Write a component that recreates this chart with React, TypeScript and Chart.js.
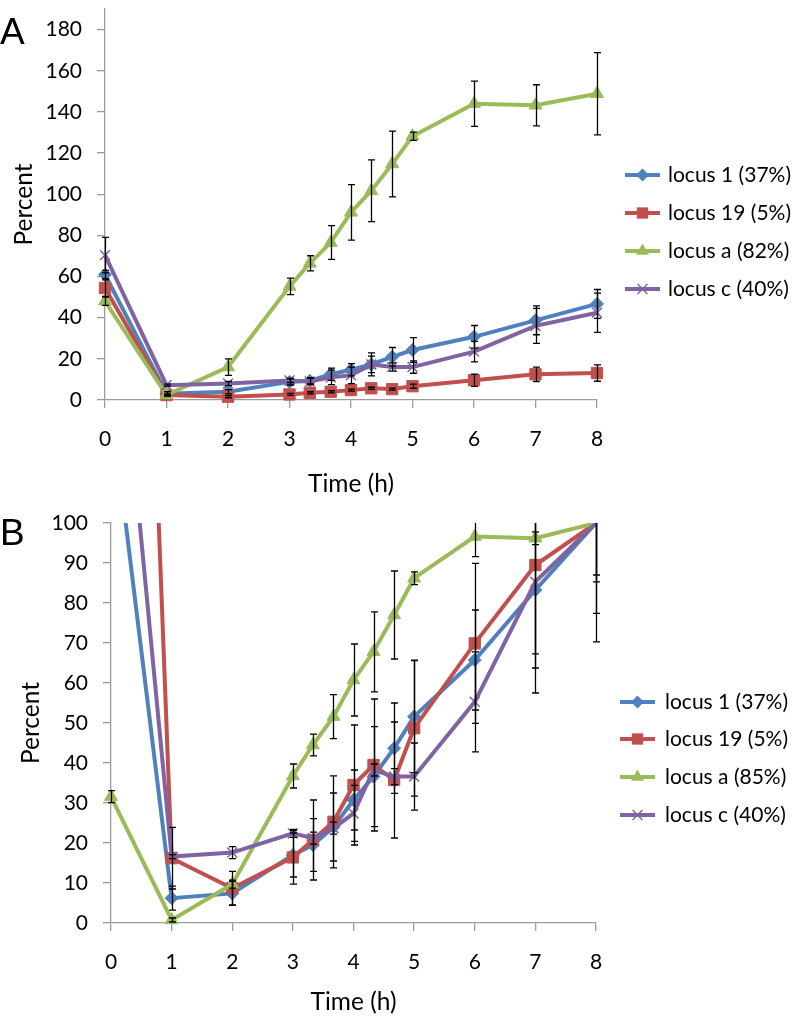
import React, { useEffect, useRef } from 'react';
import { Chart, registerables } from 'chart.js';

Chart.register(...registerables);

// ---------- data ----------
const times = [0, 1, 2, 3, 3.33, 3.67, 4, 4.33, 4.67, 5, 6, 7, 8];
const xTicks = [0, 1, 2, 3, 4, 5, 6, 7, 8];
const yTicksA = [0, 20, 40, 60, 80, 100, 120, 140, 160, 180];
const yTicksB = [0, 10, 20, 30, 40, 50, 60, 70, 80, 90, 100];

const namesA = ['locus 1 (37%)', 'locus 19 (5%)', 'locus a (82%)', 'locus c (40%)'];
const namesB = ['locus 1 (37%)', 'locus 19 (5%)', 'locus a (85%)', 'locus c (40%)'];

// Panel A
const locus1A = [61, 3, 4, 8.8, 9.3, 12.5, 14.7, 17.3, 21, 24.3, 30.7, 38.7, 46.7];
const locus1AErr = [2, 1, 1, 1.5, 1.5, 3, 3, 4, 4.5, 6, 5.5, 7, 7];
const locus19A = [54.4, 2.4, 1.6, 2.7, 3.5, 4, 4.8, 5.7, 5.3, 6.7, 9.6, 12.5, 13.1];
const locus19AErr = [4, 0.5, 0.5, 0.5, 0.5, 0.5, 0.5, 0.5, 0.5, 1, 3, 3.5, 4];
const locusaA = [48, 2.4, 16, 55.2, 66.4, 76.5, 91.2, 101.7, 114.7, 128.2, 144, 143.2, 148.8];
const locusaAErr = [2, 0.5, 4, 4, 3.7, 8.2, 13.5, 15, 16, 2, 11, 10, 20];
const locuscA = [70.4, 7.2, 8, 9.5, 9, 11, 12, 17.3, 16, 16, 23.5, 36, 42.4];
const locuscAErr = [8.6, 0.5, 1, 1, 1.5, 3.5, 4, 5.6, 2, 3, 5, 8.5, 9.5];

// Panel B
const locus1B = [130, 6.2, 7.4, 17, 19.5, 24, 30.75, 36.6, 43.7, 51.6, 65.75, 83.25, 100];
const locus1BErr = [0, 3, 3, 5.5, 6.6, 8.5, 7.5, 12.5, 11.3, 14, 12.5, 19.5, 13];
const locus19B = [410, 16.2, 8.7, 16.4, 20.75, 25.3, 34.5, 39.5, 35.75, 48.7, 69.9, 89.5, 100];
const locus19BErr = [0, 7.7, 4.2, 6.7, 10, 11.5, 15, 16.5, 14.5, 17, 20, 32, 14.7];
const locusaB = [31.6, 0.75, 9.7, 36.75, 44.5, 51.6, 60.75, 67.8, 77, 86.2, 96.6, 96.2, 100];
const locusaBErr = [1.5, 0.5, 1, 3, 2.7, 5.5, 9, 10, 11, 1.6, 5, 1.6, 29.7];
const locuscB = [175, 16.6, 17.6, 22.4, 21.2, 23.7, 27.4, 38.25, 36.6, 36.6, 55.3, 85.3, 100];
const locuscBErr = [0, 0.5, 1.5, 1, 1.5, 1.5, 7, 1.5, 2, 8.4, 12.5, 18, 22.6];

// ---------- styles ----------
const COLORS = ['#4F81BD', '#C0504D', '#9BBB59', '#8064A2'];
const SHAPES = ['rectRot', 'rect', 'triangle', 'crossRot'];
const RADII = [6.5, 8, 7.5, 7];
const ORDERS = [4, 3, 2, 1];
const AXIS = '#9c9c9c';
const FONT_FAMILY = 'Lato, "Open Sans", "DejaVu Sans", sans-serif';
const W = 796;
const TITLE_SIZE = 24.5;

type PanelCfg = {
  letter: string;
  top: number;
  height: number;
  yMax: number;
  yTicks: number[];
  area: { left: number; right: number; top: number; bottom: number };
  yTitlePad: number;
  xTitlePad: number;
  legendX1: number;
  legendX2: number;
  legendTextX: number;
  legendYs: number[];
  names: string[];
  values: number[][];
  errors: number[][];
  clipTop: number;
  letterTop: number;
};

const panelA: PanelCfg = {
  letter: 'A',
  top: 0,
  height: 508,
  yMax: 190,
  yTicks: yTicksA,
  area: { left: 105, right: 597, top: 3, bottom: 400 },
  yTitlePad: 9.3,
  xTitlePad: 9.3,
  legendX1: 625,
  legendX2: 660,
  legendTextX: 668,
  legendYs: [175, 213, 251, 289],
  names: namesA,
  values: [locus1A, locus19A, locusaA, locuscA],
  errors: [locus1AErr, locus19AErr, locusaAErr, locuscAErr],
  clipTop: 10,
  letterTop: 13,
};

const panelB: PanelCfg = {
  letter: 'B',
  top: 508,
  height: 509,
  yMax: 100,
  yTicks: yTicksB,
  area: { left: 111, right: 596, top: 15, bottom: 415 },
  yTitlePad: 16.3,
  xTitlePad: 0,
  legendX1: 620,
  legendX2: 655,
  legendTextX: 665,
  legendYs: [702, 739, 777, 815].map((v) => v - 508),
  names: namesB,
  values: [locus1B, locus19B, locusaB, locuscB],
  errors: [locus1BErr, locus19BErr, locusaBErr, locuscBErr],
  clipTop: 0,
  letterTop: 514,
};

function drawMarker(ctx: CanvasRenderingContext2D, shape: string, x: number, y: number, r: number, color: string) {
  ctx.save();
  ctx.fillStyle = color;
  ctx.strokeStyle = color;
  ctx.beginPath();
  if (shape === 'rectRot') {
    ctx.moveTo(x, y - r);
    ctx.lineTo(x + r, y);
    ctx.lineTo(x, y + r);
    ctx.lineTo(x - r, y);
    ctx.closePath();
    ctx.fill();
  } else if (shape === 'rect') {
    const s = r * Math.SQRT1_2;
    ctx.rect(x - s, y - s, 2 * s, 2 * s);
    ctx.fill();
  } else if (shape === 'triangle') {
    const h = r * 1.5;
    ctx.moveTo(x, y - r);
    ctx.lineTo(x + h / Math.sqrt(3), y + r * 0.5);
    ctx.lineTo(x - h / Math.sqrt(3), y + r * 0.5);
    ctx.closePath();
    ctx.fill();
  } else {
    const d = r * Math.SQRT1_2;
    ctx.lineWidth = 1.5;
    ctx.moveTo(x - d, y - d);
    ctx.lineTo(x + d, y + d);
    ctx.moveTo(x + d, y - d);
    ctx.lineTo(x - d, y + d);
    ctx.stroke();
  }
  ctx.restore();
}

function Panel({ cfg }: { cfg: PanelCfg }) {
  const ref = useRef<HTMLCanvasElement | null>(null);

  useEffect(() => {
    if (!ref.current) return;
    const { area, height } = cfg;

    const errorBars = {
      id: 'errorBars',
      afterDatasetsDraw(chart: any) {
        const { ctx, chartArea } = chart;
        const xs = chart.scales.x;
        const ys = chart.scales.y;
        ctx.save();
        ctx.beginPath();
        ctx.rect(chartArea.left - 10, chartArea.top - cfg.clipTop, chartArea.right - chartArea.left + 20, chartArea.bottom - chartArea.top + cfg.clipTop + 10);
        ctx.clip();
        ctx.strokeStyle = '#000';
        ctx.lineWidth = 1.3;
        chart.data.datasets.forEach((ds: any) => {
          ds.errors.forEach((e: number, i: number) => {
            if (!e) return;
            const v = ds.data[i].y;
            const px = Math.round(xs.getPixelForValue(ds.data[i].x)) + 0.5;
            const y1 = ys.getPixelForValue(v + e);
            const y2 = ys.getPixelForValue(v - e);
            ctx.beginPath();
            ctx.moveTo(px, y1);
            ctx.lineTo(px, y2);
            ctx.moveTo(px - 3.5, y1);
            ctx.lineTo(px + 3.5, y1);
            ctx.moveTo(px - 3.5, y2);
            ctx.lineTo(px + 3.5, y2);
            ctx.stroke();
          });
        });
        ctx.restore();
      },
    };

    const legendPlugin = {
      id: 'customLegend',
      afterDraw(chart: any) {
        const ctx = chart.ctx;
        ctx.save();
        cfg.names.forEach((name, i) => {
          const y = cfg.legendYs[i];
          ctx.strokeStyle = COLORS[i];
          ctx.lineWidth = 4;
          ctx.lineCap = 'butt';
          ctx.beginPath();
          ctx.moveTo(cfg.legendX1, y);
          ctx.lineTo(cfg.legendX2, y);
          ctx.stroke();
          drawMarker(ctx, SHAPES[i], (cfg.legendX1 + cfg.legendX2) / 2, y, RADII[i], COLORS[i]);
          ctx.fillStyle = '#000';
          ctx.font = `21px ${FONT_FAMILY}`;
          ctx.textBaseline = 'middle';
          ctx.textAlign = 'left';
          ctx.fillText(name, cfg.legendTextX, y);
        });
        ctx.restore();
      },
    };

    const datasets = cfg.values.map((vals, i) => ({
      label: cfg.names[i],
      data: times.map((t, j) => ({ x: t, y: vals[j] })),
      errors: cfg.errors[i],
      borderColor: COLORS[i],
      backgroundColor: COLORS[i],
      borderWidth: 4,
      pointStyle: SHAPES[i],
      pointRadius: (c: any) => (c.raw && c.raw.y >= cfg.yMax ? 0 : RADII[i]),
      pointBorderWidth: SHAPES[i] === 'crossRot' ? 1.5 : 1,
      pointBorderColor: COLORS[i],
      pointBackgroundColor: COLORS[i],
      tension: 0,
      order: ORDERS[i],
      clip: { left: 10, right: 10, bottom: 10, top: cfg.clipTop },
    }));

    const tickFont = { family: FONT_FAMILY, size: 21 };
    const titleFont = { family: FONT_FAMILY, size: TITLE_SIZE };

    const chart = new Chart(ref.current, {
      type: 'line',
      data: { datasets } as any,
      plugins: [errorBars, legendPlugin],
      options: {
        animation: false,
        responsive: false,
        maintainAspectRatio: false,
        layout: { padding: { left: 0, top: area.top, right: W - area.right, bottom: 0 } },
        plugins: { legend: { display: false }, tooltip: { enabled: false }, title: { display: false } },
        scales: {
          x: {
            type: 'linear',
            min: 0,
            max: 8,
            position: 'bottom',
            afterBuildTicks: (s: any) => {
              s.ticks = xTicks.map((v) => ({ value: v }));
            },
            ticks: {
              font: tickFont,
              color: '#000',
              padding: 19,
              maxRotation: 0,
              autoSkip: false,
              callback: (v: any) => String(v),
            },
            grid: { drawOnChartArea: false, drawTicks: true, tickLength: 8, color: AXIS, lineWidth: 1.3 },
            border: { display: true, color: AXIS, width: 1.3 },
            title: {
              display: true,
              text: 'Time (h)',
              font: titleFont,
              color: '#000',
              padding: { top: 0, bottom: cfg.xTitlePad },
            },
            afterFit: (s: any) => {
              s.height = height - area.bottom;
              s.paddingLeft = 0;
              s.paddingRight = 0;
            },
          },
          y: {
            type: 'linear',
            min: 0,
            max: cfg.yMax,
            afterBuildTicks: (s: any) => {
              s.ticks = cfg.yTicks.map((v) => ({ value: v }));
            },
            ticks: { font: tickFont, color: '#000', padding: 15, callback: (v: any) => String(v) },
            grid: { drawOnChartArea: false, drawTicks: true, tickLength: 8, color: AXIS, lineWidth: 1.3 },
            border: { display: true, color: AXIS, width: 1.3 },
            title: {
              display: true,
              text: 'Percent',
              font: titleFont,
              color: '#000',
              padding: { top: cfg.yTitlePad, bottom: 0 },
            },
            afterFit: (s: any) => {
              s.width = area.left;
              s.paddingTop = 0;
              s.paddingBottom = 0;
            },
          },
        },
      } as any,
    });
    return () => chart.destroy();
  }, [cfg]);

  return (
    <>
      <canvas
        ref={ref}
        width={W}
        height={cfg.height}
        style={{ position: 'absolute', left: 0, top: cfg.top, width: W, height: cfg.height }}
      />
      <div
        style={{
          position: 'absolute',
          left: 0,
          top: cfg.letterTop,
          fontFamily: '"Liberation Sans", Arial, sans-serif',
          fontSize: 37,
          lineHeight: '38px',
          color: '#000',
        }}
      >
        {cfg.letter}
      </div>
    </>
  );
}

export default function App() {
  return (
    <div style={{ position: 'absolute', left: 0, top: 0, width: W, height: 1017, background: '#fff' }}>
      <Panel cfg={panelA} />
      <Panel cfg={panelB} />
    </div>
  );
}
